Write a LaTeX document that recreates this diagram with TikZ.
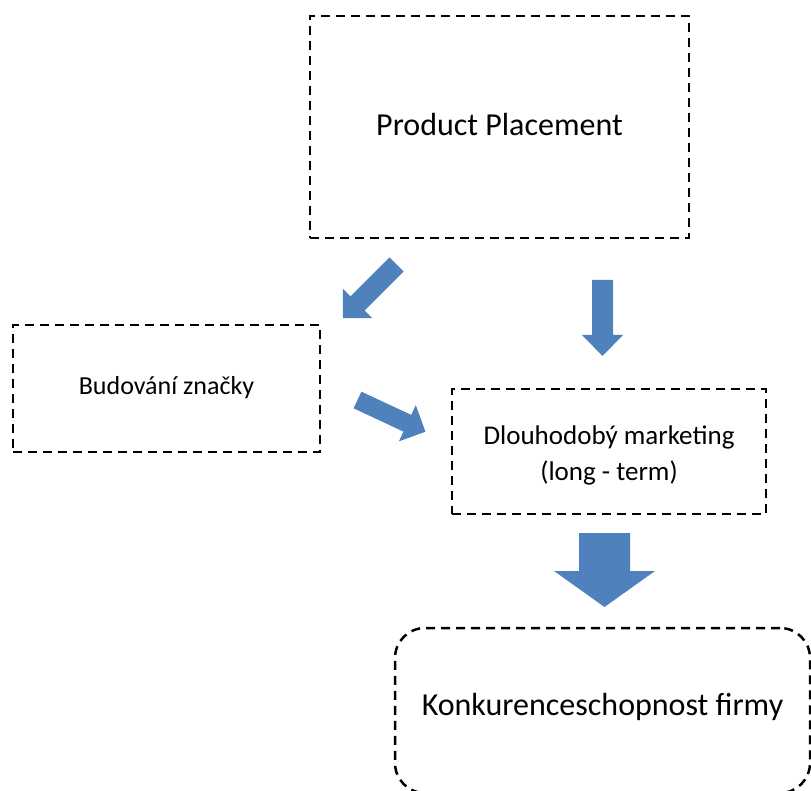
\documentclass[tikz,border=0pt]{standalone}
\usepackage{fontspec}
\setmainfont{Carlito}
\definecolor{arrowblue}{HTML}{4F81BD}
% block arrow: #1 placement, #2 total length, #3 head length, #4 shaft half width, #5 head half width
\newcommand\blockarrow[5]{%
  \fill[arrowfill,#1] (0,-#4) -- (#2-#3,-#4) -- (#2-#3,-#5) -- (#2,0)
    -- (#2-#3,#5) -- (#2-#3,#4) -- (0,#4) -- cycle;}
\begin{document}
\begin{tikzpicture}[x=1pt,y=-1pt,
  dashbox/.style={draw=black,line width=2.5pt,dash pattern=on 9pt off 6pt,
    inner sep=0pt},
  boxtext/.style={align=center,text=black,inner sep=0pt},
  arrowfill/.style={fill=arrowblue}]
\useasboundingbox (0,0) rectangle (811,791);
% boxes
\node[dashbox,minimum width=379pt,minimum height=222pt] (pp) at (499.5,127) {};
\node[boxtext,font=\fontsize{32}{38}\selectfont] (ppt) at ([yshift=2pt]pp.center) {Product Placement};
\node[dashbox,minimum width=307pt,minimum height=127pt] (bz) at (166.5,388.5) {};
\node[boxtext,font=\fontsize{26}{31}\selectfont] (bzt) at ([yshift=1pt]bz.center) {Budování značky};
\node[dashbox,minimum width=314pt,minimum height=125pt] (dm) at (609,451.5) {};
\node[boxtext,font=\fontsize{27}{36}\selectfont] (dmt) at ([yshift=-4pt]dm.center)
  {Dlouhodobý marketing\\(long - term)};
\node[dashbox,rounded corners=30pt,minimum width=415pt,minimum height=165pt] (kf) at (602.5,710.5) {};
\node[boxtext,font=\fontsize{32}{38}\selectfont] (kft) at ([yshift=4pt]kf.center) {Konkurenceschopnost firmy};
% block arrows
\blockarrow{shift={(396.5,264.5)},rotate=225}{76}{21}{10}{21}
\blockarrow{shift={(602.5,280)},rotate=-90}{76}{21}{10.5}{20.5}
\blockarrow{shift={(357.5,400)},rotate=-25}{75}{20}{9.2}{20}
\blockarrow{shift={(604.5,533)},rotate=-90}{74}{36}{25.5}{50.5}
\end{tikzpicture}
\end{document}
